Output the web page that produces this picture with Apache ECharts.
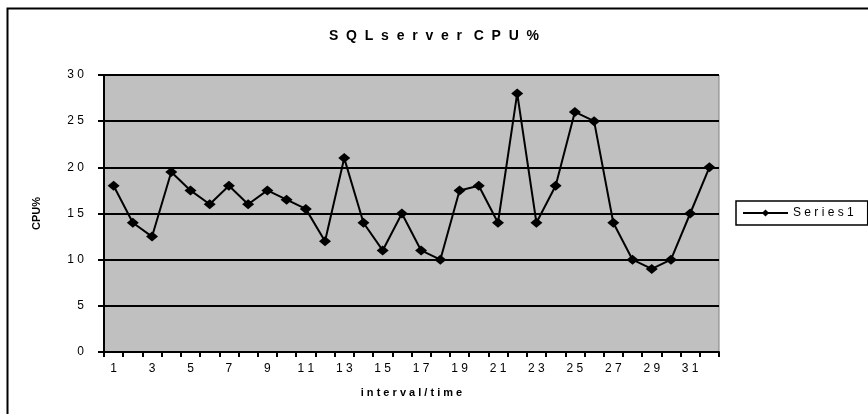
<!DOCTYPE html>
<html>
<head>
<meta charset="utf-8">
<script src="https://cdn.jsdelivr.net/npm/echarts@6/dist/echarts.min.js"></script>
<style>
  html, body { margin: 0; padding: 0; background: #fff; }
  #main { width: 868px; height: 414px; }
</style>
</head>
<body>
<div id="main"></div>
<script>
// categories (interval/time)
var categories = ['1', '2', '3', '4', '5', '6', '7', '8', '9', '10', '11', '12', '13', '14', '15', '16',
                  '17', '18', '19', '20', '21', '22', '23', '24', '25', '26', '27', '28', '29', '30', '31', '32'];
// CPU% values, Series1
var series1 = [18, 14, 12.5, 19.5, 17.5, 16, 18, 16, 17.5, 16.5, 15.5, 12, 21, 14, 11, 15,
               11, 10, 17.5, 18, 14, 28, 14, 18, 26, 25, 14, 10, 9, 10, 15, 20];
var seriesName = 'Series1';
var titleText = 'SQLserver CPU%';
var xName = 'interval/time';
var yName = 'CPU%';

// Excel-like spaced lettering
function spaced(s, sep, wordSep) {
    return String(s).split(' ').map(function (w) {
        return w.split('').join(sep);
    }).join(wordSep || sep);
}

var font = "'Liberation Sans', Arial, sans-serif";
var chart = echarts.init(document.getElementById('main'));

var option = {
    animation: false,
    backgroundColor: '#fff',
    title: {
        text: spaced(titleText, '  ', '   '),
        left: 'center',
        top: 24,
        textStyle: { fontFamily: font, fontSize: 14, fontWeight: 'bold', color: '#000' }
    },
    legend: {
        data: [seriesName],
        left: 736,
        top: 201,
        orient: 'vertical',
        padding: [6, 14, 6, 6],
        itemWidth: 45,
        itemHeight: 9,
        itemGap: 4,
        borderColor: '#000',
        borderWidth: 1.5,
        formatter: function (name) { return spaced(name, ' '); },
        textStyle: { fontFamily: font, fontSize: 12, color: '#000' }
    },
    grid: {
        left: 104,
        top: 75,
        right: 149,
        bottom: 62,
        show: true,
        backgroundColor: '#c0c0c0',
        borderColor: '#808080',
        borderWidth: 1
    },
    xAxis: {
        type: 'category',
        data: categories,
        boundaryGap: true,
        name: spaced(xName, ' '),
        nameLocation: 'middle',
        nameGap: 35,
        nameTextStyle: { fontFamily: font, fontSize: 11, fontWeight: 'bold', color: '#000' },
        axisLine: { lineStyle: { color: '#000', width: 2 } },
        axisTick: { show: true, interval: 0, length: 5, lineStyle: { color: '#000', width: 2 } },
        axisLabel: {
            interval: 1,
            margin: 11,
            fontFamily: font,
            fontSize: 12,
            color: '#000',
            formatter: function (v) { return spaced(v, ' '); }
        },
        splitLine: { show: false }
    },
    yAxis: {
        type: 'value',
        min: 0,
        max: 30,
        interval: 5,
        name: yName,
        nameLocation: 'middle',
        nameGap: 62,
        nameTextStyle: { fontFamily: font, fontSize: 11, fontWeight: 'bold', color: '#000' },
        axisLine: { show: true, lineStyle: { color: '#000', width: 2 } },
        axisTick: { show: true, length: 6, lineStyle: { color: '#000', width: 2 } },
        axisLabel: {
            margin: 20,
            fontFamily: font,
            fontSize: 12,
            color: '#000',
            formatter: function (v) { return spaced(v, ' '); }
        },
        splitLine: { show: true, lineStyle: { color: '#000', width: 2 } }
    },
    series: [{
        name: seriesName,
        type: 'line',
        data: series1,
        symbol: 'diamond',
        symbolSize: [12, 10],
        itemStyle: { color: '#000' },
        lineStyle: { color: '#000', width: 2 }
    }],
    graphic: [{
        type: 'rect',
        left: 5,
        top: 6,
        shape: { width: 900, height: 500 },
        style: { fill: 'none', stroke: '#000', lineWidth: 2 },
        silent: true
    }]
};

chart.setOption(option);
</script>
</body>
</html>
